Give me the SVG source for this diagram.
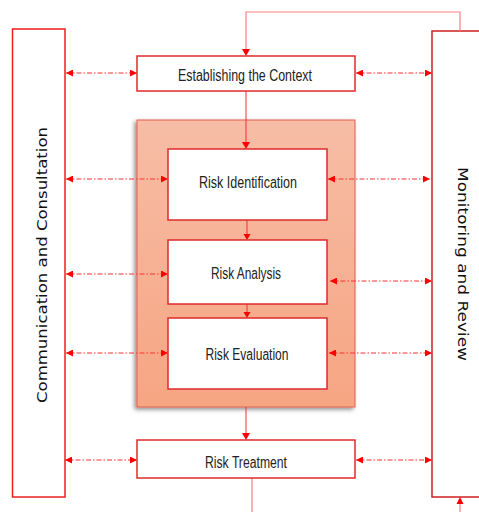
<svg xmlns="http://www.w3.org/2000/svg" width="479" height="512" viewBox="0 0 479 512">
<defs>
<linearGradient id="og" x1="0" y1="0" x2="0" y2="1">
<stop offset="0" stop-color="#f7bda6"/>
<stop offset="1" stop-color="#f6a582"/>
</linearGradient>
<filter id="sh" x="-10%" y="-10%" width="120%" height="120%">
<feDropShadow dx="-2" dy="2" stdDeviation="2" flood-color="#000" flood-opacity="0.45"/>
</filter>
<marker id="ah" viewBox="0 0 10 10" refX="10" refY="5" markerWidth="7" markerHeight="7" orient="auto-start-reverse" markerUnits="userSpaceOnUse">
<path d="M0,0 L10,5 L0,10 z" fill="#ff0000"/>
</marker>
</defs>
<style>
.box{fill:#fff;stroke:#e02a2a;stroke-width:1.5}
.side{fill:#fff;stroke:#ee1c1c;stroke-width:1.5}
.lbl{font-family:"Liberation Sans",Arial,sans-serif;font-size:16px;fill:#222;text-anchor:middle}
.vlbl{font-family:"DejaVu Sans",Verdana,sans-serif;font-size:14px;fill:#111;text-anchor:middle}
.flow{stroke:#f03030;stroke-width:1;fill:none}
.dash{stroke:#ff3030;stroke-width:1;fill:none;stroke-dasharray:5,2,1.5,2;marker-start:url(#ah);marker-end:url(#ah)}
.fb{stroke:#f78080;stroke-width:1.2;fill:none}
</style>
<g id="communication">
<rect class="side" x="12.5" y="29" width="52.5" height="468"/>
<text class="vlbl" transform="translate(47,265) rotate(-90)" textLength="276" lengthAdjust="spacingAndGlyphs">Communication  and Consultation</text>
</g>
<g id="monitoring">
<rect x="432" y="31" width="60" height="466" style="fill:#fff;stroke:#d02020;stroke-width:1.5"/>
<text class="vlbl" transform="translate(458,264) rotate(90)" textLength="194" lengthAdjust="spacingAndGlyphs">Monitoring and Review</text>
</g>
<g id="assessment">
<rect x="137" y="120" width="218" height="287" fill="url(#og)" stroke="#e06050" stroke-width="1" filter="url(#sh)"/>
</g>
<g id="connectors">
<path class="fb" d="M460,31 V12 H246 V50"/>
<path d="M242,49 L250,49 L246,56 z" fill="#ff0000"/>
<path class="flow" d="M246,91 V142"/>
<path d="M242,142 L250,142 L246,149 z" fill="#ff0000"/>
<path class="flow" d="M247,220 V234"/>
<path d="M243.5,234 L250.5,234 L247,240 z" fill="#ff0000"/>
<path class="flow" d="M247,304 V312"/>
<path d="M243.5,312 L250.5,312 L247,318 z" fill="#ff0000"/>
<path class="flow" d="M246,407 V434"/>
<path d="M242,433 L250,433 L246,440 z" fill="#ff0000"/>
<path class="fb" d="M252,478 V512"/>
<path class="fb" d="M460,512 V503"/>
<path d="M456.5,504 L463.5,504 L460,497 z" fill="#ff0000"/>
<path class="dash" d="M66,73 H137"/>
<path class="dash" d="M356,73 H432"/>
<path class="dash" d="M66,179 H168"/>
<path class="dash" d="M328,179 H430"/>
<path class="dash" d="M66,274 H168"/>
<path class="dash" d="M330,281 H432"/>
<path class="dash" d="M66,353 H168"/>
<path class="dash" d="M329,353 H432"/>
<path class="dash" d="M65,460 H137"/>
<path class="dash" d="M356,460 H432"/>
</g>
<g id="context">
<rect class="box" x="137" y="56" width="218" height="35"/>
<text class="lbl" x="245" y="81" textLength="134" lengthAdjust="spacingAndGlyphs">Establishing the Context</text>
</g>
<g id="identification">
<rect class="box" x="168" y="149" width="159" height="71"/>
<text class="lbl" x="248" y="188" textLength="98" lengthAdjust="spacingAndGlyphs">Risk Identification</text>
</g>
<g id="analysis">
<rect class="box" x="168" y="240" width="159" height="64"/>
<text class="lbl" x="246" y="279" textLength="70" lengthAdjust="spacingAndGlyphs">Risk Analysis</text>
</g>
<g id="evaluation">
<rect class="box" x="168" y="318" width="159" height="71"/>
<text class="lbl" x="247" y="360" textLength="83" lengthAdjust="spacingAndGlyphs">Risk Evaluation</text>
</g>
<g id="treatment">
<rect class="box" x="137" y="440" width="218" height="38"/>
<text class="lbl" x="246" y="468" textLength="82" lengthAdjust="spacingAndGlyphs">Risk Treatment</text>
</g>
</svg>
